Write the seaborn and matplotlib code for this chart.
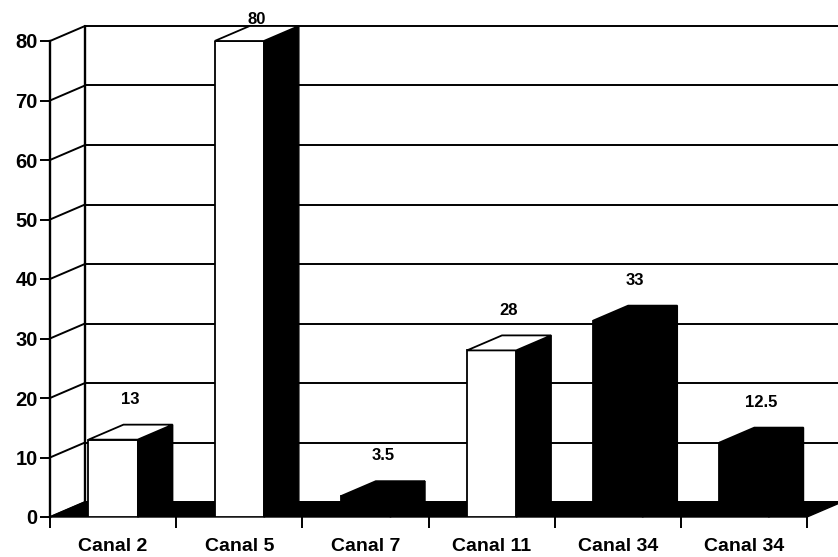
import matplotlib
matplotlib.use("Agg")
import matplotlib.pyplot as plt
from matplotlib.patches import Polygon
import numpy as np
import seaborn as sns

# audience per channel
channels = ["Canal 2", "Canal 5", "Canal 7", "Canal 11", "Canal 34", "Canal 34"]
audience = [13, 80, 3.5, 28, 33, 12.5]
value_labels = ["13", "80", "3.5", "28", "33", "12.5"]
y_ticks = [0, 10, 20, 30, 40, 50, 60, 70, 80]

front_fill = ["white", "white", "black", "white", "black", "black"]

sns.set_style("white", {"text.color": "black", "xtick.color": "black",
                        "ytick.color": "black", "axes.edgecolor": "black"})
plt.rcParams["font.family"] = ["Liberation Sans", "DejaVu Sans"]
plt.rcParams["font.weight"] = "bold"

fig = plt.figure(figsize=(8.38, 5.57), dpi=100)
ax = fig.add_axes([50 / 838, 40 / 557, 757 / 838, 476 / 557])

sns.barplot(x=np.arange(len(audience)), y=audience, color="white",
            width=0.39, edgecolor="black", linewidth=1.3, ax=ax, zorder=5)

ax.set_xlim(-0.5, len(audience) - 0.5)
ax.set_ylim(0, 80)

# depth of the fake 3d box, in data units
DX = 35 / (757 / 6)
DY = 15 / (476 / 80)
x_left = -0.5
x_right = len(audience) - 0.5

# back wall grid
for v in y_ticks:
    ax.plot([x_left, x_left + DX], [v, v + DY], color="black", lw=1.4,
            clip_on=False, zorder=1)
    ax.plot([x_left + DX, x_right + DX], [v + DY, v + DY], color="black",
            lw=1.4, clip_on=False, zorder=1)
ax.plot([x_left + DX, x_left + DX], [DY, 80 + DY], color="black", lw=1.7,
        clip_on=False, zorder=1)

# floor
floor = Polygon([(x_left, 0), (x_right, 0), (x_right + DX, DY), (x_left + DX, DY)],
                closed=True, facecolor="black", edgecolor="black",
                clip_on=False, zorder=2)
ax.add_patch(floor)

# side and top faces for each bar
for p, fc, lab in zip(ax.patches[:], front_fill, value_labels):
    x0, w, h = p.get_x(), p.get_width(), p.get_height()
    p.set_facecolor(fc)
    side = Polygon([(x0 + w, 0), (x0 + w + DX, DY), (x0 + w + DX, h + DY), (x0 + w, h)],
                   closed=True, facecolor="black", edgecolor="black",
                   clip_on=False, zorder=6)
    top = Polygon([(x0, h), (x0 + w, h), (x0 + w + DX, h + DY), (x0 + DX, h + DY)],
                  closed=True, facecolor=fc, edgecolor="black", lw=1.3,
                  clip_on=False, zorder=6)
    ax.add_patch(side)
    ax.add_patch(top)
    ax.text(x0 + w / 2 + DX / 2, min(h + DY + 3.0, 82.4), lab, color="black",
            ha="center", va="bottom", fontsize=12, fontweight="bold", zorder=7)

for s in ["top", "right"]:
    ax.spines[s].set_visible(False)
ax.spines["left"].set_linewidth(1.7)
ax.spines["left"].set_color("black")
ax.spines["bottom"].set_visible(False)
ax.spines["left"].set_zorder(3)

ax.set_yticks(y_ticks)
ax.set_yticklabels([str(t) for t in y_ticks], fontsize=14.5, fontweight="bold",
                   color="black")
ax.tick_params(axis="y", direction="out", length=7, width=1.4, pad=2, left=True,
               color="black")

ax.set_xticks(np.arange(len(channels)))
ax.set_xticklabels(channels, fontsize=14, fontweight="bold", color="black")
ax.set_xticks(np.arange(len(channels) + 1) - 0.5, minor=True)
ax.tick_params(axis="x", which="major", length=0, pad=15)
ax.tick_params(axis="x", which="minor", direction="out", length=8, width=1.4,
               bottom=True, color="black")

fig.savefig("out.png", dpi=100)
